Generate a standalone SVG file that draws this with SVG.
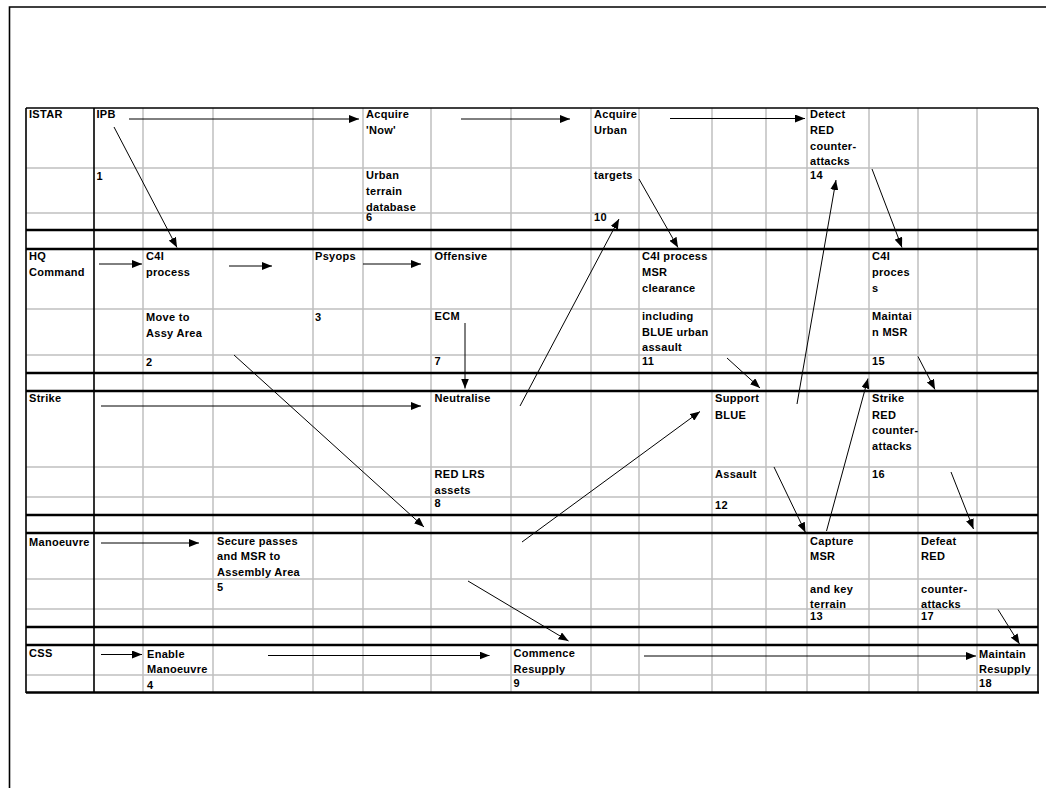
<svg xmlns="http://www.w3.org/2000/svg" width="1046" height="788" viewBox="0 0 1046 788">
  <style>
    .t { font-family: "Liberation Sans", Arial, sans-serif; font-size: 11px; font-weight: bold; letter-spacing: 0.3px; fill: #000; }
    .grid { stroke: #c0c0c0; stroke-width: 1.5; fill: none; }
    .thick { stroke: #000; stroke-width: 2.7; fill: none; }
    .edge { stroke: #000; stroke-width: 1.6; fill: none; }
    .conn { stroke: #000; stroke-width: 1; fill: none; marker-end: url(#ah); }
  </style>
  <defs>
    <marker id="ah" markerUnits="userSpaceOnUse" markerWidth="10" markerHeight="8" refX="10" refY="4" orient="auto">
      <path d="M0,0 L10,4 L0,8 Z" fill="#000"/>
    </marker>
  </defs>

  <rect width="1046" height="788" fill="#fff"/>

  <!-- page frame -->
  <path d="M9.5,788 V7 H1046" class="edge" stroke-width="2.5"/>

  <!-- table grid -->
  <g id="grid">
    <path class="grid" d="M143,108 V693 M213,108 V693 M313,108 V693 M363,108 V693 M431,108 V693 M511,108 V693 M591,108 V693 M639,108 V693 M712,108 V693 M766,108 V693 M807,108 V693 M869,108 V693 M918,108 V693 M977,108 V693"/>
    <path class="grid" d="M26,168 H1038 M26,213 H1038 M26,309 H1038 M26,355 H1038 M26,467 H1038 M26,497 H1038 M26,579 H1038 M26,609 H1038 M26,675 H1038"/>
    <path class="edge" d="M26,108 H1038 M26,108 V693 M94,108 V693"/>
    <path class="edge" stroke-width="2.3" d="M1038,108 V693"/>
    <path class="thick" d="M26,230 H1038 M26,249 H1038 M26,373 H1038 M26,391 H1038 M26,515 H1038 M26,533 H1038 M26,627 H1038 M26,645 H1038 M26,692.5 H1039"/>
  </g>

  <!-- lane labels -->
  <g id="lanes">
    <text class="t" x="29" y="118">ISTAR</text>
    <text class="t" x="29" y="260">HQ</text>
    <text class="t" x="29" y="276">Command</text>
    <text class="t" x="29" y="402">Strike</text>
    <text class="t" x="29" y="546">Manoeuvre</text>
    <text class="t" x="29" y="657">CSS</text>
  </g>

  <!-- ISTAR activities -->
  <g id="n1">
    <text class="t" x="96.5" y="118">IPB</text>
    <text class="t" x="96.5" y="179.5">1</text>
  </g>
  <g id="n6">
    <text class="t" x="366" y="118">Acquire</text>
    <text class="t" x="366" y="133.5">'Now'</text>
    <text class="t" x="366" y="179">Urban</text>
    <text class="t" x="366" y="195">terrain</text>
    <text class="t" x="366" y="210.5">database</text>
    <text class="t" x="366" y="220.5">6</text>
  </g>
  <g id="n10">
    <text class="t" x="594" y="118">Acquire</text>
    <text class="t" x="594" y="133.5">Urban</text>
    <text class="t" x="594" y="178.5">targets</text>
    <text class="t" x="594" y="220.5">10</text>
  </g>
  <g id="n14">
    <text class="t" x="810" y="118">Detect</text>
    <text class="t" x="810" y="134">RED</text>
    <text class="t" x="810" y="149.5">counter-</text>
    <text class="t" x="810" y="165">attacks</text>
    <text class="t" x="810" y="179">14</text>
  </g>

  <!-- HQ Command activities -->
  <g id="n2">
    <text class="t" x="146" y="260">C4I</text>
    <text class="t" x="146" y="276">process</text>
    <text class="t" x="146" y="321">Move to</text>
    <text class="t" x="146" y="336.5">Assy Area</text>
    <text class="t" x="146" y="365.5">2</text>
  </g>
  <g id="n3">
    <text class="t" x="315" y="260">Psyops</text>
    <text class="t" x="315" y="321">3</text>
  </g>
  <g id="n7">
    <text class="t" x="434.5" y="260">Offensive</text>
    <text class="t" x="434.5" y="320">ECM</text>
    <text class="t" x="434.5" y="365">7</text>
  </g>
  <g id="n11">
    <text class="t" x="642" y="260">C4I process</text>
    <text class="t" x="642" y="276">MSR</text>
    <text class="t" x="642" y="291.5">clearance</text>
    <text class="t" x="642" y="320">including</text>
    <text class="t" x="642" y="336">BLUE urban</text>
    <text class="t" x="642" y="351">assault</text>
    <text class="t" x="642" y="365">11</text>
  </g>
  <g id="n15">
    <text class="t" x="872" y="260">C4I</text>
    <text class="t" x="872" y="276">proces</text>
    <text class="t" x="872" y="292">s</text>
    <text class="t" x="872" y="320">Maintai</text>
    <text class="t" x="872" y="336">n MSR</text>
    <text class="t" x="872" y="365">15</text>
  </g>

  <!-- Strike activities -->
  <g id="n8">
    <text class="t" x="434.5" y="402">Neutralise</text>
    <text class="t" x="434.5" y="478">RED LRS</text>
    <text class="t" x="434.5" y="494">assets</text>
    <text class="t" x="434.5" y="507">8</text>
  </g>
  <g id="n12">
    <text class="t" x="715" y="402">Support</text>
    <text class="t" x="715" y="418.5">BLUE</text>
    <text class="t" x="715" y="478">Assault</text>
    <text class="t" x="715" y="509">12</text>
  </g>
  <g id="n16">
    <text class="t" x="872" y="402">Strike</text>
    <text class="t" x="872" y="418.5">RED</text>
    <text class="t" x="872" y="434">counter-</text>
    <text class="t" x="872" y="449.5">attacks</text>
    <text class="t" x="872" y="477.5">16</text>
  </g>

  <!-- Manoeuvre activities -->
  <g id="n5">
    <text class="t" x="217" y="545">Secure passes</text>
    <text class="t" x="217" y="560">and MSR to</text>
    <text class="t" x="217" y="575.5">Assembly Area</text>
    <text class="t" x="217" y="591">5</text>
  </g>
  <g id="n13">
    <text class="t" x="810" y="545">Capture</text>
    <text class="t" x="810" y="560">MSR</text>
    <text class="t" x="810" y="593">and key</text>
    <text class="t" x="810" y="608">terrain</text>
    <text class="t" x="810" y="620">13</text>
  </g>
  <g id="n17">
    <text class="t" x="921" y="545">Defeat</text>
    <text class="t" x="921" y="560">RED</text>
    <text class="t" x="921" y="593">counter-</text>
    <text class="t" x="921" y="608">attacks</text>
    <text class="t" x="921" y="620">17</text>
  </g>

  <!-- CSS activities -->
  <g id="n4">
    <text class="t" x="147" y="657.5">Enable</text>
    <text class="t" x="147" y="673">Manoeuvre</text>
    <text class="t" x="147" y="689">4</text>
  </g>
  <g id="n9">
    <text class="t" x="513.5" y="657">Commence</text>
    <text class="t" x="513.5" y="673">Resupply</text>
    <text class="t" x="513.5" y="687">9</text>
  </g>
  <g id="n18">
    <text class="t" x="979" y="657.5">Maintain</text>
    <text class="t" x="979" y="673">Resupply</text>
    <text class="t" x="979" y="687">18</text>
  </g>

  <!-- connectors -->
  <g id="connectors">
    <line class="conn" x1="129" y1="119" x2="359" y2="119"/>
    <line class="conn" x1="461" y1="119" x2="570" y2="119"/>
    <line class="conn" x1="670" y1="118.5" x2="805" y2="118.5"/>
    <line class="conn" x1="114" y1="127" x2="177" y2="247.5"/>
    <line class="conn" x1="639" y1="179" x2="678" y2="247.5"/>
    <line class="conn" x1="872" y1="169" x2="902" y2="247.5"/>
    <line class="conn" x1="99" y1="264" x2="142" y2="264"/>
    <line class="conn" x1="229" y1="266" x2="272" y2="266"/>
    <line class="conn" x1="363" y1="264" x2="421" y2="264"/>
    <line class="conn" x1="465" y1="323" x2="465" y2="388.5"/>
    <line class="conn" x1="520" y1="406" x2="619" y2="219"/>
    <line class="conn" x1="234" y1="355" x2="424" y2="527"/>
    <line class="conn" x1="727" y1="358" x2="760" y2="388"/>
    <line class="conn" x1="797" y1="404" x2="836" y2="180"/>
    <line class="conn" x1="101" y1="406" x2="421" y2="406"/>
    <line class="conn" x1="522" y1="542" x2="700" y2="411.5"/>
    <line class="conn" x1="918" y1="356.5" x2="935" y2="389.5"/>
    <line class="conn" x1="774" y1="467" x2="805.5" y2="532.5"/>
    <line class="conn" x1="826.5" y1="531" x2="868" y2="378.5"/>
    <line class="conn" x1="951" y1="472" x2="973.5" y2="529"/>
    <line class="conn" x1="101" y1="543" x2="199" y2="543"/>
    <line class="conn" x1="468" y1="581" x2="568.5" y2="641"/>
    <line class="conn" x1="101" y1="654.5" x2="142" y2="654.5"/>
    <line class="conn" x1="268" y1="655.5" x2="489.5" y2="655.5"/>
    <line class="conn" x1="644" y1="656" x2="976" y2="656"/>
    <line class="conn" x1="998" y1="609.5" x2="1019.5" y2="644"/>
  </g>
</svg>
